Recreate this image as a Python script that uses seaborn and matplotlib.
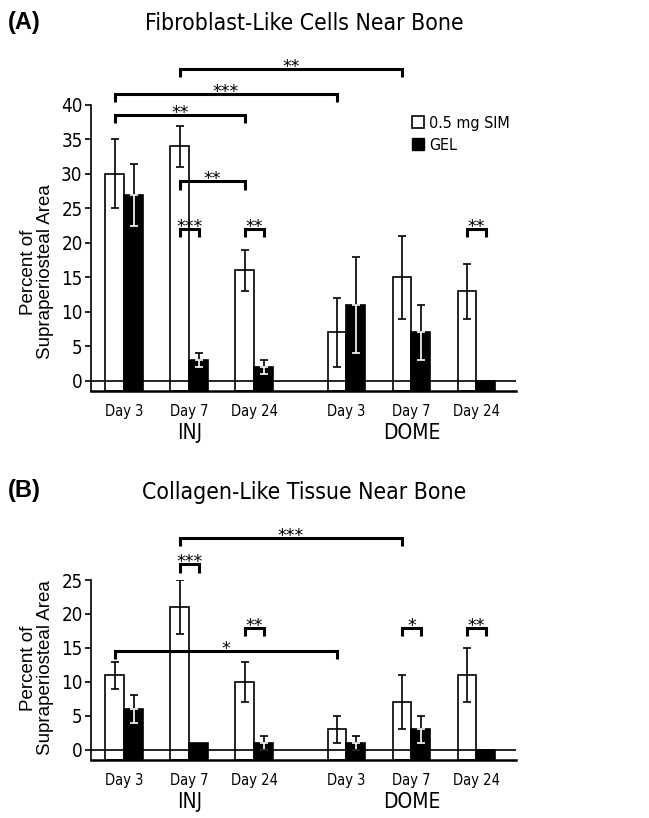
import numpy as np
import pandas as pd
import seaborn as sns
import matplotlib.pyplot as plt
from matplotlib import font_manager
from matplotlib.lines import Line2D

# =============================================================================
# Data
# =============================================================================

days = ["Day 3", "Day 7", "Day 24", "Day 3", "Day 7", "Day 24"]
sites = ["INJ", "INJ", "INJ", "DOME", "DOME", "DOME"]
treatments = ["0.5 mg SIM", "GEL"]

# (A) fibroblast-like cells near bone
fib_sim = [30, 34, 16, 7, 15, 13]
fib_sim_err = [5, 3, 3, 5, 6, 4]
fib_gel = [27, 3, 2, 11, 7, 0]
fib_gel_err = [4.5, 1, 1, 7, 4, 0]

# (B) collagen-like tissue near bone
col_sim = [11, 21, 10, 3, 7, 11]
col_sim_err = [2, 4, 3, 2, 4, 4]
col_gel = [6, 1, 1, 1, 3, 0]
col_gel_err = [2, 0, 1, 1, 2, 0]

# significance brackets: (group a, bar a, group b, bar b, level, stars)
fib_sig = [
    (1, 0, 4, 0, 45.2, "**"),
    (0, 0, 3, 0, 41.6, "***"),
    (0, 0, 2, 0, 38.6, "**"),
    (1, 0, 2, 0, 28.9, "**"),
    (1, 0, 1, 1, 22.0, "***"),
    (2, 0, 2, 1, 22.0, "**"),
    (5, 0, 5, 1, 22.0, "**"),
]
col_sig = [
    (1, 0, 4, 0, 31.2, "***"),
    (1, 0, 1, 1, 27.3, "***"),
    (2, 0, 2, 1, 17.9, "**"),
    (4, 0, 4, 1, 17.9, "*"),
    (5, 0, 5, 1, 17.9, "**"),
    (0, 0, 3, 0, 14.6, "*"),
]

# =============================================================================
# Layout / fonts
# =============================================================================

group_pos = [0, 1, 2, 3.42, 4.42, 5.42]
bar_w = 0.29
y_floor = -1.5

sns.set_style("ticks", {
    "axes.edgecolor": "black",
    "text.color": "black",
    "xtick.color": "black",
    "ytick.color": "black",
    "axes.labelcolor": "black",
})

# look for a narrow sans face; fall back to Roboto
narrow = None
for f in font_manager.fontManager.ttflist:
    fn = f.fname.lower()
    if ("narrow" in fn or "condensed" in fn) and "sans" in fn \
            and not any(k in fn for k in ["bold", "italic", "oblique"]):
        narrow = f
        break

if narrow is not None:
    cond = font_manager.FontProperties(fname=narrow.fname)
else:
    cond = font_manager.FontProperties(family=["Roboto", "DejaVu Sans"])

plain = ["Liberation Sans", "DejaVu Sans"]
plt.rcParams["font.family"] = plain


def cfont(size):
    fp = cond.copy()
    fp.set_size(size)
    return fp


def build_frame(sim, gel):
    return pd.DataFrame({
        "pos": group_pos * 2,
        "value": list(sim) + list(gel),
        "Treatment": [treatments[0]] * 6 + [treatments[1]] * 6,
    })


def bar_x(group, bar):
    return group_pos[group] + (bar - 0.5) * bar_w


def draw_panel(ax, sim, sim_err, gel, gel_err, sig, ymax, yticks):
    df = build_frame(sim, gel)
    sns.barplot(
        data=df, x="pos", y="value", hue="Treatment",
        hue_order=treatments, native_scale=True,
        palette={treatments[0]: "white", treatments[1]: "black"},
        edgecolor="black", linewidth=1.2, width=2 * bar_w,
        errorbar=None, legend=False, ax=ax, zorder=2
    )
    # bars run down to the bottom spine
    for p in ax.patches:
        h = p.get_height()
        p.set_y(y_floor)
        p.set_height(h - y_floor)

    for i in range(6):
        if sim_err[i] > 0:
            ax.errorbar(bar_x(i, 0), sim[i], yerr=sim_err[i], fmt="none",
                        ecolor="black", elinewidth=1.2, capsize=3, capthick=1.2,
                        zorder=3)
        if gel_err[i] > 0:
            ax.errorbar(bar_x(i, 1), gel[i], yerr=[[0], [gel_err[i]]], fmt="none",
                        ecolor="black", elinewidth=1.2, capsize=3, capthick=1.2,
                        zorder=3)
            ax.errorbar(bar_x(i, 1), gel[i], yerr=[[gel_err[i]], [0]], fmt="none",
                        ecolor="white", elinewidth=1.2, capsize=3, capthick=1.2,
                        zorder=3)

    ax.axhline(0, color="black", linewidth=1.2, zorder=4)

    for ga, ba, gb, bb, lvl, stars in sig:
        xa, xb = bar_x(ga, ba), bar_x(gb, bb)
        ax.plot([xa, xa, xb, xb], [lvl - 1.2, lvl, lvl, lvl - 1.2],
                color="black", linewidth=2.2, clip_on=False,
                solid_joinstyle="miter", solid_capstyle="butt", zorder=5)
        ax.annotate(stars, ((xa + xb) / 2, lvl), xytext=(0, 1.5),
                    textcoords="offset points", ha="center", va="center",
                    fontsize=12.5, family=["DejaVu Sans"], annotation_clip=False)

    ax.set_xlim(-0.512, 6.03)
    ax.set_ylim(y_floor, ymax)
    ax.set_yticks(yticks)
    ax.set_yticklabels([str(t) for t in yticks], fontproperties=cfont(13.5))
    ax.set_xticks(group_pos)
    ax.set_xticklabels(days, fontproperties=cfont(10.5))
    ax.tick_params(axis="x", length=0, pad=9)
    ax.tick_params(axis="y", length=4, width=1.2, pad=2)
    ax.set_xlabel("")
    ax.set_ylabel("")
    sns.despine(ax=ax)
    ax.spines["left"].set_linewidth(1.2)
    ax.spines["bottom"].set_linewidth(1.8)

    for g, name in [(1, "INJ"), (4, "DOME")]:
        ax.annotate(name, (group_pos[g], 0), xycoords=("data", "axes fraction"),
                    xytext=(0, -30.5), textcoords="offset points",
                    ha="center", va="center", fontproperties=cfont(15))


fig = plt.figure(figsize=(6.49, 8.18), dpi=100)
W, H = 649, 818
axA = fig.add_axes([91 / W, 1 - 391 / H, 425 / W, 286 / H])
axB = fig.add_axes([91 / W, 1 - 760 / H, 425 / W, 180 / H])

draw_panel(axA, fib_sim, fib_sim_err, fib_gel, fib_gel_err, fib_sig,
           40, list(range(0, 41, 5)))
draw_panel(axB, col_sim, col_sim_err, col_gel, col_gel_err, col_sig,
           25, list(range(0, 26, 5)))

# legend
handles = [
    Line2D([0], [0], marker="s", linestyle="none", markersize=9,
           markerfacecolor="white", markeredgecolor="black", markeredgewidth=1.2,
           label=treatments[0]),
    Line2D([0], [0], marker="s", linestyle="none", markersize=9,
           markerfacecolor="black", markeredgecolor="black", label=treatments[1]),
]
axA.legend(handles=handles, loc="upper left", bbox_to_anchor=(0.74, 0.985),
           frameon=False, handlelength=0.8, handletextpad=0.3,
           labelspacing=0.45, prop=cfont(11.5), borderaxespad=0)

# titles and labels
fig.text(8 / W, 1 - 23 / H, "(A)", ha="left", va="center", fontsize=17,
         fontweight="bold")
fig.text(8 / W, 1 - 491 / H, "(B)", ha="left", va="center", fontsize=17,
         fontweight="bold")
fig.text(304 / W, 1 - 23 / H, "Fibroblast-Like Cells Near Bone", ha="center",
         va="center", fontproperties=cfont(16.5))
fig.text(304 / W, 1 - 492 / H, "Collagen-Like Tissue Near Bone", ha="center",
         va="center", fontproperties=cfont(16.5))
fig.text(37 / W, 1 - 272 / H, "Percent of\nSupraperiosteal Area", rotation=90,
         ha="center", va="center", multialignment="center", fontsize=13.5,
         linespacing=1.05)
fig.text(37 / W, 1 - 668 / H, "Percent of\nSupraperiosteal Area", rotation=90,
         ha="center", va="center", multialignment="center", fontsize=13.5,
         linespacing=1.05)

fig.savefig("out.png", dpi=100)
